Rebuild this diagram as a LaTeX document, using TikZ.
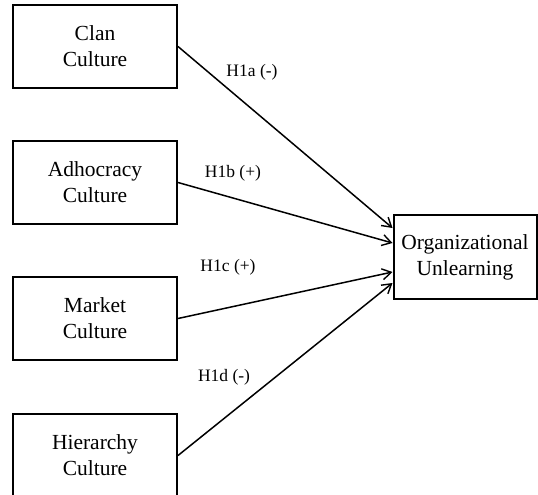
\documentclass[tikz,border=0pt]{standalone}
\usepackage{fontspec}
\setmainfont{Liberation Serif}
\usetikzlibrary{arrows.meta,positioning}

\begin{document}
\begin{tikzpicture}[
  x=1pt,
  y=-1pt,
  node distance=51pt,
  box/.style={
    rectangle,
    draw=black,
    line width=2pt,
    fill=white,
    text=black,
    minimum width=164pt,
    minimum height=83pt,
    inner sep=2pt,
    font=\fontsize{21.5}{26}\selectfont,
    align=center
  },
  hyp/.style={
    font=\fontsize{17.5}{20}\selectfont,
    inner sep=0pt
  },
  arrow/.style={
    -{Straight Barb[length=9pt,width=11pt,line width=1.4pt]},
    line width=1.5pt,
    draw=black
  }
]

\useasboundingbox (0,0) rectangle (538,495);

\node[box] (clan) at (95,46.5) {Clan\\Culture};
\node[box, below=of clan] (adhocracy) {Adhocracy\\Culture};
\node[box, below=of adhocracy] (market) {Market\\Culture};
\node[box, below=52pt of market] (hierarchy) {Hierarchy\\Culture};

\node[box, minimum width=143pt, minimum height=84pt] (unlearning) at (465,257) {Organizational\\Unlearning};

\draw[arrow] (clan.east) -- ([yshift=29pt]unlearning.west);
\draw[arrow] (adhocracy.east) -- ([yshift=14pt]unlearning.west);
\draw[arrow] (market.east) -- ([yshift=-15pt]unlearning.west);
\draw[arrow] (hierarchy.east) -- ([yshift=-26pt]unlearning.west);

\node[hyp] (h1a) at (252,72) {H1a (-)};
\node[hyp] (h1b) at (233,173) {H1b (+)};
\node[hyp] (h1c) at (228,267) {H1c (+)};
\node[hyp] (h1d) at (224,377) {H1d (-)};

\end{tikzpicture}
\end{document}
